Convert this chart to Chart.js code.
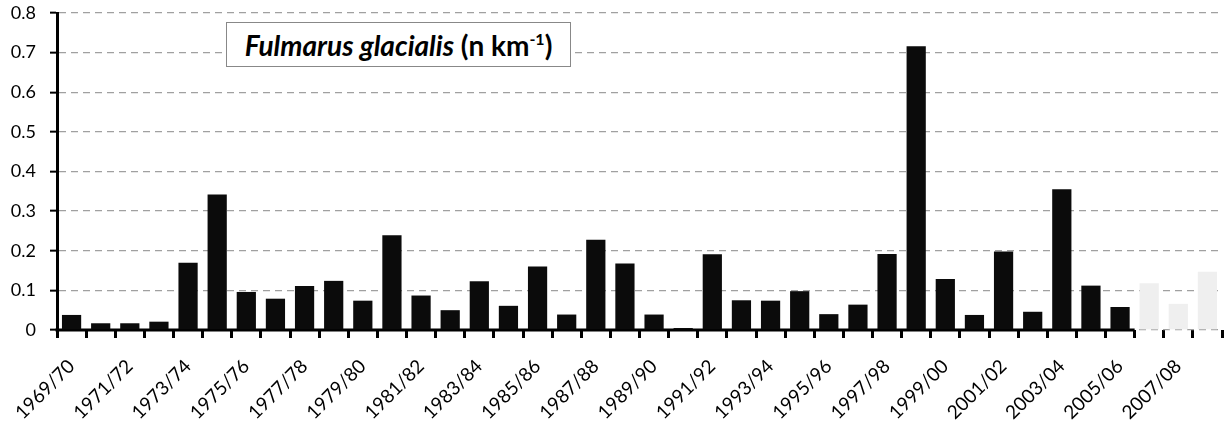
<!DOCTYPE html>
<html>
<head>
<meta charset="utf-8">
<script src="https://cdn.jsdelivr.net/npm/chart.js@4"></script>
<style>
  html, body { margin: 0; padding: 0; background: #fff; }
  #wrap { position: relative; width: 1230px; height: 427px; }
  #title {
    position: absolute; left: 226px; top: 22px; width: 345px; height: 45px;
    border: 1px solid #888; background: #fff; box-sizing: border-box;
    font-family: Lato, "Open Sans", sans-serif; font-size: 28px; color: #000;
    display: flex; align-items: center; justify-content: center; white-space: nowrap;
  }
  #title sup { font-size: 16px; vertical-align: 11px; line-height: 0; }
</style>
</head>
<body>
<div id="wrap">
  <canvas id="c" width="1230" height="427"></canvas>
  <div id="title"><b><i>Fulmarus glacialis</i>&nbsp;(n km<sup>-1</sup>)</b></div>
</div>
<script>
const seasons = [
  "1969/70","1970/71","1971/72","1972/73","1973/74","1974/75","1975/76","1976/77",
  "1977/78","1978/79","1979/80","1980/81","1981/82","1982/83","1983/84","1984/85",
  "1985/86","1986/87","1987/88","1988/89","1989/90","1990/91","1991/92","1992/93",
  "1993/94","1994/95","1995/96","1996/97","1997/98","1998/99","1999/00","2000/01",
  "2001/02","2002/03","2003/04","2004/05","2005/06","2006/07","2007/08","2008/09"
];
const density = [
  0.038, 0.017, 0.017, 0.021, 0.170, 0.342, 0.096, 0.079,
  0.111, 0.124, 0.074, 0.239, 0.087, 0.050, 0.123, 0.061,
  0.160, 0.039, 0.228, 0.168, 0.039, 0.005, 0.191, 0.075,
  0.074, 0.098, 0.040, 0.064, 0.192, 0.716, 0.129, 0.038,
  0.198, 0.046, 0.355, 0.112, 0.058, 0.118, 0.066, 0.147
];
const lightSeasons = ["2006/07","2007/08","2008/09"];
const yTicks = [0, 0.1, 0.2, 0.3, 0.4, 0.5, 0.6, 0.7, 0.8];

const barColors = seasons.map(s => lightSeasons.includes(s) ? "#efefef" : "#0b0b0b");
const fontFam = "Lato, 'Open Sans', sans-serif";

// x-axis line stops where the faint seasons begin
const partialAxis = {
  id: "partialAxis",
  beforeDatasetsDraw(chart) {
    const xs = chart.scales.x, ys = chart.scales.y, ctx = chart.ctx;
    const lastDark = seasons.indexOf(lightSeasons[0]) - 1;
    const half = (xs.getPixelForValue(1) - xs.getPixelForValue(0)) / 2;
    const xEnd = xs.getPixelForValue(lastDark) + half;
    const y0 = ys.getPixelForValue(0);
    ctx.save();
    ctx.strokeStyle = "#000";
    ctx.lineWidth = 3;
    ctx.setLineDash([]);
    ctx.beginPath();
    ctx.moveTo(chart.chartArea.left - 1.5, y0);
    ctx.lineTo(xEnd, y0);
    ctx.stroke();
    ctx.restore();
  }
};

new Chart(document.getElementById("c"), {
  type: "bar",
  data: {
    labels: seasons,
    datasets: [{
      data: density,
      backgroundColor: barColors,
      borderWidth: 0,
      barPercentage: 0.66,
      categoryPercentage: 1.0
    }]
  },
  options: {
    responsive: false,
    animation: false,
    devicePixelRatio: 1,
    layout: { padding: { top: 0, right: 8, left: 0, bottom: 0 } },
    plugins: { legend: { display: false }, tooltip: { enabled: false }, title: { display: false } },
    scales: {
      x: {
        afterFit: s => { s.height = 97; s.paddingLeft = 0; s.paddingRight = 0; },
        border: { display: false },
        grid: {
          display: true, offset: true, drawOnChartArea: false, drawTicks: true,
          tickLength: 8, tickColor: "#000", tickWidth: 3, color: "#000"
        },
        ticks: {
          autoSkip: false, maxRotation: 45, minRotation: 45, padding: 17,
          color: "#000", font: { family: fontFam, size: 19 },
          callback: function(v, i) { return i % 2 === 0 ? this.getLabelForValue(v) : ""; }
        }
      },
      y: {
        min: 0, max: 0.8,
        afterFit: s => { s.width = 57; s.paddingTop = 13; s.paddingBottom = 0; },
        afterBuildTicks: s => { s.ticks = yTicks.map(v => ({ value: v })); },
        border: { display: true, color: "#000", width: 3, dash: [7, 5] },
        grid: {
          color: "#a0a0a0", lineWidth: 1.3, drawTicks: true, tickLength: 7,
          tickColor: "#000", tickWidth: 2, tickBorderDash: []
        },
        ticks: {
          padding: 14, color: "#000", font: { family: fontFam, size: 18 },
          callback: v => (v === 0 ? "0" : String(Math.round(v * 10) / 10))
        }
      }
    }
  },
  plugins: [partialAxis]
});
</script>
</body>
</html>
